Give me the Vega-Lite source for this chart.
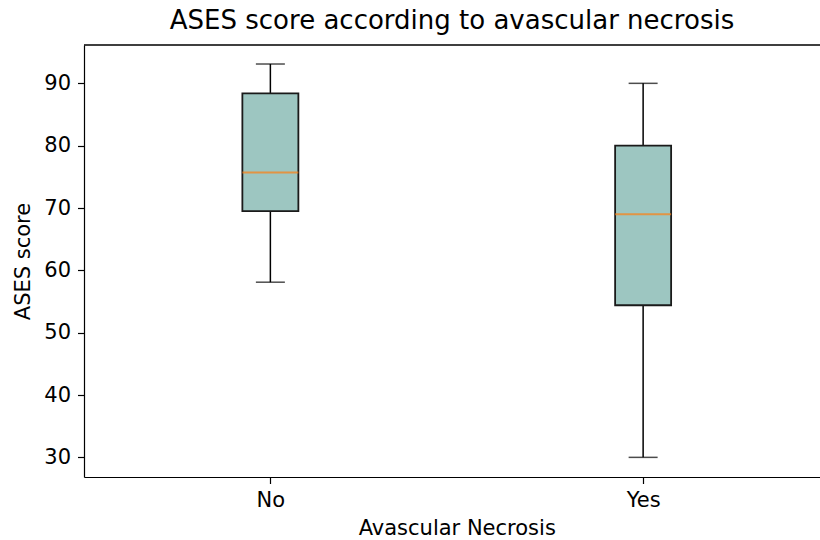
{
  "$schema": "https://vega.github.io/schema/vega-lite/v6.json",
  "autosize": {"type": "none"},
  "padding": {"left": 84, "top": 45, "right": 0, "bottom": 63},
  "width": 736,
  "height": 432,
  "background": "white",
  "config": {
    "font": "DejaVu Sans",
    "view": {"stroke": null},
    "axis": {"grid": false, "domain": true, "domainColor": "black", "domainWidth": 1.2, "tickColor": "black", "tickSize": 6.5, "tickWidth": 1.2, "labelColor": "black", "titleColor": "black", "labelFont": "DejaVu Sans", "titleFont": "DejaVu Sans", "labelFontSize": 21, "titleFontSize": 21, "titleFontWeight": "normal"}
  },
  "title": {"text": "ASES score according to avascular necrosis", "fontSize": 26, "fontWeight": "normal", "font": "DejaVu Sans", "color": "black", "offset": 10},
  "data": {"values": [
    {"group": "No", "lower": 58.1, "q1": 69.5, "median": 75.7, "q3": 88.4, "upper": 93.1},
    {"group": "Yes", "lower": 30.0, "q1": 54.4, "median": 69.0, "q3": 80.0, "upper": 90.0}
  ]},
  "layer": [
    {"mark": {"type": "rule", "color": "black", "strokeWidth": 1.5},
     "encoding": {
       "x": {"field": "group", "type": "nominal", "scale": {"type": "point", "domain": ["No", "Yes"], "range": [0, 745.5], "padding": 0.5},
         "axis": {"title": "Avascular Necrosis", "labelAngle": 0, "labelPadding": 6, "titlePadding": 7}},
       "y": {"field": "lower", "type": "quantitative", "scale": {"domain": [26.85, 96.15], "nice": false, "zero": false},
        "axis": {"title": "ASES score", "values": [30, 40, 50, 60, 70, 80, 90], "labelPadding": 7, "titlePadding": 10}},
       "y2": {"field": "upper"}}},
    {"mark": {"type": "rule", "color": "black", "strokeWidth": 1.2},
     "encoding": {"y": {"datum": 96.15, "type": "quantitative"}}},
    {"mark": {"type": "tick", "color": "black", "size": 29, "thickness": 1.5},
     "encoding": {"x": {"field": "group", "type": "nominal"}, "y": {"field": "lower", "type": "quantitative"}}},
    {"mark": {"type": "tick", "color": "black", "size": 29, "thickness": 1.5},
     "encoding": {"x": {"field": "group", "type": "nominal"}, "y": {"field": "upper", "type": "quantitative"}}},
    {"mark": {"type": "bar", "size": 56, "fill": "#9dc6c1", "stroke": "#1a1a1a", "strokeWidth": 1.8},
     "encoding": {"x": {"field": "group", "type": "nominal"}, "y": {"field": "q1", "type": "quantitative"}, "y2": {"field": "q3"}}},
    {"mark": {"type": "tick", "color": "#ff7f0e", "size": 56, "thickness": 2},
     "encoding": {"x": {"field": "group", "type": "nominal"}, "y": {"field": "median", "type": "quantitative"}}}
  ]
}
